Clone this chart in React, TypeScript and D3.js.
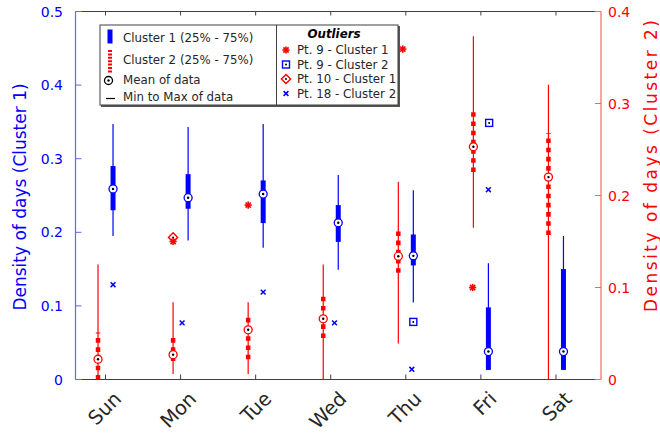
import React from 'react';
import * as d3 from 'd3';

// days on the x axis
const days = ['Sun', 'Mon', 'Tue', 'Wed', 'Thu', 'Fri', 'Sat'];

// cluster 1 (left axis)
const c1Min = [0.195, 0.189, 0.179, 0.149, 0.1045, 0.013, 0.013];
const c1Q1 = [0.230, 0.232, 0.2125, 0.187, 0.155, 0.013, 0.013];
const c1Q3 = [0.290, 0.279, 0.2705, 0.237, 0.197, 0.098, 0.150];
const c1Max = [0.347, 0.343, 0.347, 0.278, 0.257, 0.158, 0.195];
const c1Mean = [0.259, 0.247, 0.252, 0.213, 0.168, 0.038, 0.038];

// cluster 2 (right axis)
const c2Min = [0, 0.006, 0.006, 0, 0.039, 0.165, 0];
const c2Q1 = [0, 0.020, 0.022, 0.045, 0.116, 0.2255, 0.157];
const c2Q3 = [0.051, 0.050, 0.072, 0.0945, 0.166, 0.295, 0.268];
const c2Max = [0.125, 0.084, 0.084, 0.125, 0.215, 0.373, 0.3205];
const c2Mean = [0.022, 0.027, 0.054, 0.066, 0.134, 0.253, 0.220];

// outliers: [day position, value]
const pt9c1 = [[1.9, 0.1875], [2.9, 0.237], [4.96, 0.449], [5.89, 0.125]];
const pt9c2 = [[5.1, 0.0626], [6.11, 0.2789]];
const pt10c1 = [[1.9, 0.193]];
const pt18c2 = [[1.1, 0.103], [2.02, 0.0615], [3.1, 0.0949], [4.05, 0.0615], [5.08, 0.0111], [6.1, 0.2063]];

const leftTicks = [0, 0.1, 0.2, 0.3, 0.4, 0.5];
const rightTicks = [0, 0.1, 0.2, 0.3, 0.4];

const BLUE = '#0000ff';
const RED = '#ff0000';
const FONT = 'DejaVu Sans, Verdana, sans-serif';

const x = d3.scaleLinear().domain([0.6, 7.6]).range([75.5, 601]);
const yL = d3.scaleLinear().domain([0, 0.5]).range([379.5, 11.5]);
const yR = d3.scaleLinear().domain([0, 0.4]).range([379.5, 11.5]);

const OFF = 0.1;

function MeanMark({ cx, cy, color }) {
  return (
    <g>
      <circle cx={cx} cy={cy} r={4} fill="white" stroke={color} strokeWidth={1.3} />
      <circle cx={cx} cy={cy} r={1.2} fill="black" />
    </g>
  );
}

function Star({ cx, cy }) {
  const r = 3.6;
  const d = r * 0.72;
  return (
    <g stroke={RED} strokeWidth={1.6}>
      <line x1={cx - r} y1={cy} x2={cx + r} y2={cy} />
      <line x1={cx} y1={cy - r} x2={cx} y2={cy + r} />
      <line x1={cx - d} y1={cy - d} x2={cx + d} y2={cy + d} />
      <line x1={cx - d} y1={cy + d} x2={cx + d} y2={cy - d} />
    </g>
  );
}

function Square({ cx, cy }) {
  return (
    <g>
      <rect x={cx - 3.5} y={cy - 3.5} width={7} height={7} fill="white" stroke={BLUE} strokeWidth={1.4} />
      <circle cx={cx} cy={cy} r={1} fill="black" />
    </g>
  );
}

function Diamond({ cx, cy }) {
  const r = 4.6;
  return (
    <g>
      <path d={`M${cx},${cy - r}L${cx + r},${cy}L${cx},${cy + r}L${cx - r},${cy}Z`} fill="white" stroke={RED} strokeWidth={1.4} />
      <circle cx={cx} cy={cy} r={1} fill="black" />
    </g>
  );
}

function Cross({ cx, cy }) {
  const r = 2.4;
  return (
    <g stroke={BLUE} strokeWidth={1.5}>
      <line x1={cx - r} y1={cy - r} x2={cx + r} y2={cy + r} />
      <line x1={cx - r} y1={cy + r} x2={cx + r} y2={cy - r} />
    </g>
  );
}

export default function App() {
  const dayIdx = days.map((_, i) => i + 1);

  return (
    <svg width={660} height={433} style={{ position: 'absolute', left: 0, top: 0, background: 'white' }} fontFamily={FONT}>
      {/* box top / bottom */}
      <line x1={x(0.6)} x2={x(7.6)} y1={yL(0)} y2={yL(0)} stroke="#404040" strokeWidth={1} />
      <line x1={x(0.6)} x2={x(7.6)} y1={yL(0.5)} y2={yL(0.5)} stroke="#404040" strokeWidth={1} />
      {dayIdx.map(d => (
        <g key={'t' + d}>
          <line x1={x(d)} x2={x(d)} y1={yL(0)} y2={yL(0) - 5} stroke="#404040" />
          <line x1={x(d)} x2={x(d)} y1={yL(0.5)} y2={yL(0.5) + 4} stroke="#404040" />
          <text
            transform={`translate(${x(d) + 17},400) rotate(-45)`}
            textAnchor="end"
            fontSize={19.5}
            fill="#262626"
          >{days[d - 1]}</text>
        </g>
      ))}

      {/* left axis */}
      <line x1={x(0.6)} x2={x(0.6)} y1={yL(0)} y2={yL(0.5)} stroke="#6464ff" strokeWidth={1.2} />
      {leftTicks.map(t => (
        <g key={'l' + t}>
          <line x1={x(0.6)} x2={x(0.6) + 6} y1={yL(t)} y2={yL(t)} stroke="#6464ff" />
          <text x={63} y={yL(t)} dy="0.36em" textAnchor="end" fontSize={14} fill={BLUE}>{t === 0 ? '0' : t.toFixed(1)}</text>
        </g>
      ))}
      <text transform={`translate(20,197) rotate(-90)`} textAnchor="middle" dy="0.35em" fontSize={17} fill={BLUE}>Density of days (Cluster 1)</text>

      {/* right axis */}
      <line x1={x(7.6)} x2={x(7.6)} y1={yR(0)} y2={yR(0.4)} stroke="#ff6464" strokeWidth={1.2} />
      {rightTicks.map(t => (
        <g key={'r' + t}>
          <line x1={x(7.6)} x2={x(7.6) - 6} y1={yR(t)} y2={yR(t)} stroke="#ff6464" />
          <text x={608} y={yR(t)} dy="0.36em" textAnchor="start" fontSize={14} fill={RED}>{t === 0 ? '0' : t.toFixed(1)}</text>
        </g>
      ))}
      <text transform={`translate(651,166) rotate(-90)`} textAnchor="middle" dy="0.35em" fontSize={17} fill={RED}
        textLength={292} lengthAdjust="spacing">Density of days (Cluster 2)</text>

      {/* cluster 2 boxes */}
      {dayIdx.map((d, i) => {
        const cx = x(d - OFF);
        return (
          <g key={'c2' + d}>
            <line x1={cx} x2={cx} y1={yR(c2Min[i])} y2={yR(c2Max[i])} stroke={RED} strokeWidth={1.2} />
            <line x1={cx} x2={cx} y1={yR(c2Q1[i])} y2={yR(c2Q3[i])} stroke={RED} strokeWidth={4.5} strokeDasharray="4.6 4.6" />
            <MeanMark cx={cx} cy={yR(c2Mean[i])} color={RED} />
          </g>
        );
      })}

      {/* cluster 1 boxes */}
      {dayIdx.map((d, i) => {
        const cx = x(d + OFF);
        return (
          <g key={'c1' + d}>
            <line x1={cx} x2={cx} y1={yL(c1Min[i])} y2={yL(c1Max[i])} stroke={BLUE} strokeWidth={1.2} />
            <line x1={cx} x2={cx} y1={yL(c1Q1[i])} y2={yL(c1Q3[i])} stroke={BLUE} strokeWidth={5} />
            <MeanMark cx={cx} cy={yL(c1Mean[i])} color={BLUE} />
          </g>
        );
      })}

      {/* outliers */}
      {pt10c1.map((p, i) => <Diamond key={'d' + i} cx={x(p[0])} cy={yL(p[1])} />)}
      {pt9c1.map((p, i) => <Star key={'s' + i} cx={x(p[0])} cy={yL(p[1])} />)}
      {pt9c2.map((p, i) => <Square key={'q' + i} cx={x(p[0])} cy={yR(p[1])} />)}
      {pt18c2.map((p, i) => <Cross key={'x' + i} cx={x(p[0])} cy={yR(p[1])} />)}

      {/* legend */}
      <g fontSize={11.8} fill="#262626">
        <rect x={101} y={26} width={299} height={81} fill="#555" />
        <rect x={100} y={25} width={298} height={80} fill="white" stroke="#404040" strokeWidth={1} />
        <line x1={276.5} x2={276.5} y1={25} y2={105} stroke="#404040" />
        <rect x={107.5} y={29.5} width={5} height={14} fill={BLUE} />
        <line x1={110} x2={110} y1={50} y2={73} stroke={RED} strokeWidth={4} strokeDasharray="2 1.4" />
        <MeanMark cx={108.5} cy={80.5} color="black" />
        <line x1={106} x2={115} y1={98.5} y2={98.5} stroke="black" strokeWidth={1.2} />
        <text x={123} y={41.5}>Cluster 1 (25% - 75%)</text>
        <text x={123} y={63.5}>Cluster 2 (25% - 75%)</text>
        <text x={123} y={84}>Mean of data</text>
        <text x={123} y={101}>Min to Max of data</text>

        <text x={334} y={37.5} textAnchor="middle" fontWeight="bold" fontStyle="italic" fill="black">Outliers</text>
        <Star cx={286} cy={50} />
        <Square cx={286} cy={64.5} />
        <Diamond cx={286} cy={79} />
        <Cross cx={286} cy={93.5} />
        <text x={297} y={54}>Pt. 9 - Cluster 1</text>
        <text x={297} y={68.5}>Pt. 9 - Cluster 2</text>
        <text x={297} y={83}>Pt. 10 - Cluster 1</text>
        <text x={297} y={97.5}>Pt. 18 - Cluster 2</text>
      </g>
    </svg>
  );
}
